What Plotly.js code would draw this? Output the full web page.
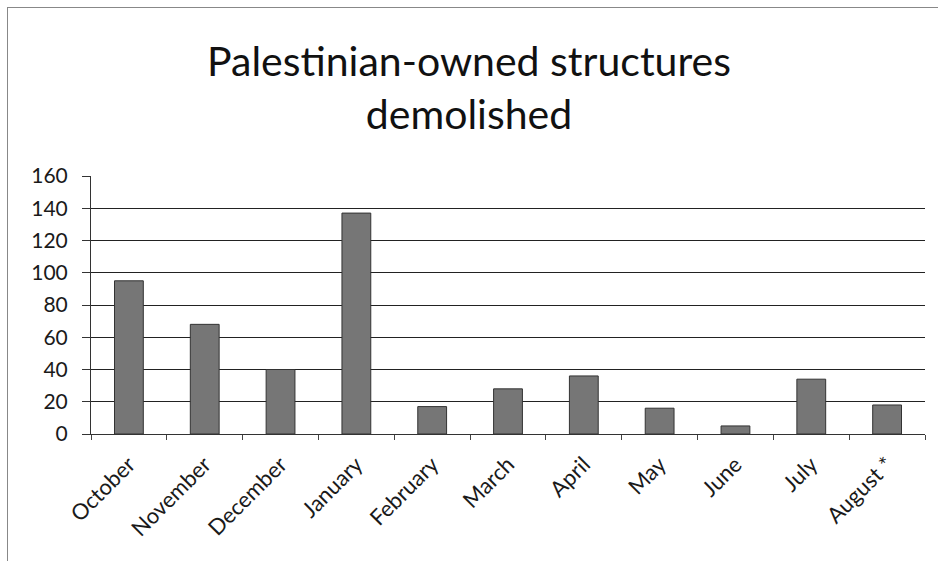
<!DOCTYPE html>
<html>
<head>
<meta charset="utf-8">
<script src="https://cdn.plot.ly/plotly-3.0.1.min.js"></script>
<style>
html,body{margin:0;padding:0;background:#fff;}
#wrap{position:relative;width:938px;height:561px;overflow:hidden;}
#frame{position:absolute;left:7px;top:7px;width:940px;height:600px;border:1px solid #888;box-sizing:border-box;}
#chart{position:absolute;left:0;top:0;width:938px;height:561px;}
</style>
</head>
<body>
<div id="wrap">
<div id="chart"></div>
<div id="frame"></div>
</div>
<script>
const months = ["October","November","December","January","February","March","April","May","June","July","August *"];
const demolished = [95, 68, 40, 137, 17, 28, 36, 16, 5, 34, 18];
const yTicks = [0, 20, 40, 60, 80, 100, 120, 140, 160];

const font = "Lato, 'Open Sans', sans-serif";

Plotly.newPlot("chart", [{
  type: "bar",
  x: months,
  y: demolished,
  marker: {color: "#767676", line: {color: "#333", width: 1}},
  hoverinfo: "x+y"
}], {
  width: 938, height: 561,
  paper_bgcolor: "rgba(0,0,0,0)",
  plot_bgcolor: "#fff",
  margin: {l: 91, r: 13, t: 176, b: 127},
  bargap: 0.62,
  showlegend: false,
  title: {
    text: "Palestinian-owned structures<br>demolished",
    font: {family: font, size: 41, color: "#111"},
    x: 0.5, xanchor: "center", y: 0.865, yanchor: "top"
  },
  xaxis: {
    type: "category",
    tickangle: -45,
    tickson: "boundaries",
    ticks: "outside", ticklen: 5, tickcolor: "#444",
    ticklabelstandoff: 8,
    showline: true, linecolor: "#333", linewidth: 1,
    showgrid: false,
    tickfont: {family: font, size: 22, color: "#1a1a1a"}
  },
  yaxis: {
    range: [0, 160],
    tickvals: yTicks,
    ticktext: yTicks.map(String),
    ticks: "outside", ticklen: 8, tickcolor: "#333",
    ticklabelstandoff: 10,
    showline: true, linecolor: "#333", linewidth: 1,
    showgrid: true, gridcolor: "#222", gridwidth: 1,
    zeroline: false,
    tickfont: {family: font, size: 21, color: "#1a1a1a"}
  }
}, {displayModeBar: false, staticPlot: true});
</script>
</body>
</html>
